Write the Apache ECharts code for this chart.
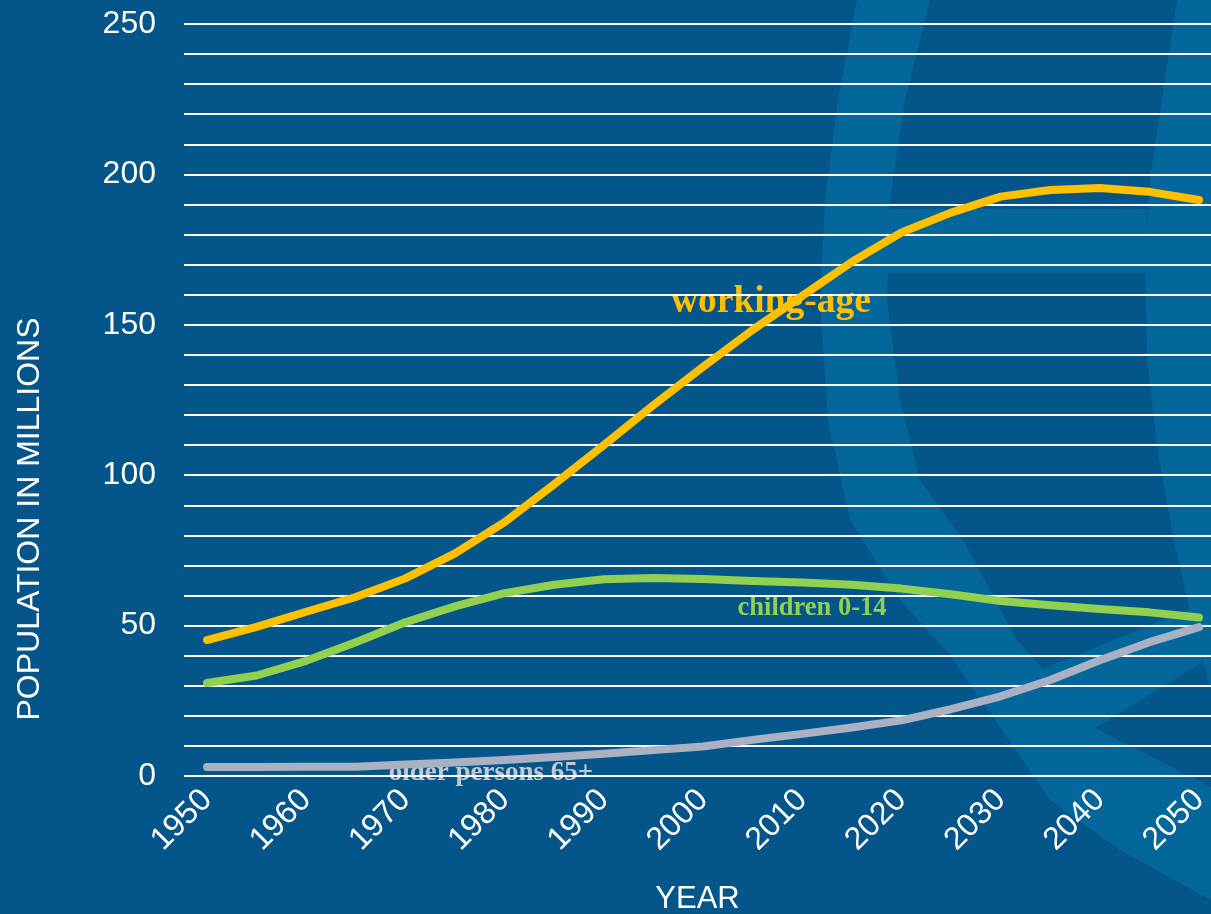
<!DOCTYPE html>
<html>
<head>
<meta charset="utf-8">
<script src="https://cdn.jsdelivr.net/npm/echarts@6/dist/echarts.min.js"></script>
<style>
html,body{margin:0;padding:0;background:#04568A;overflow:hidden;}
#chart{width:1211px;height:914px;}
</style>
</head>
<body>
<div id="chart"></div>
<script>
const years = [1950,1955,1960,1965,1970,1975,1980,1985,1990,1995,2000,2005,2010,2015,2020,2025,2030,2035,2040,2045,2050];
const workingAge = [45.2,49.6,54.6,59.5,65.7,74,84.4,97,110,123.3,136,148.3,159.6,170.9,180.7,187.3,192.6,194.8,195.5,194.2,191.5];
const children = [30.9,33.4,38.3,44.5,51.1,56.4,60.8,63.6,65.4,65.8,65.5,64.8,64.3,63.6,62.3,60.4,58.2,56.8,55.5,54.4,52.7];
const older = [3.0,3.0,3.1,3.1,3.8,4.5,5.3,6.3,7.4,8.6,9.8,12.0,14.0,16.1,18.5,22.2,26.5,31.9,38.5,44.5,49.5];
const xTickLabels = [1950,1960,1970,1980,1990,2000,2010,2020,2030,2040,2050];
const yTickLabels = [0,50,100,150,200,250];

const pair = arr => years.map((y,i)=>[y,arr[i]]);
const light = '#03679B';
const sans = '"Liberation Sans", Arial, sans-serif';
const serif = '"Liberation Serif", "Times New Roman", serif';

const chart = echarts.init(document.getElementById('chart'));
chart.setOption({
  backgroundColor: '#04568A',
  animation: false,
  graphic: [
    { type:'polygon', z:-10, silent:true, shape:{points:[
      [857,0],[838,100],[825,200],[820,300],[828,420],[850,520],[900,600],[950,655],[1000,727],[1050,800],[1120,850],[1211,900],
      [1211,787],[1095,728],[1017,640],[963,540],[920,480],[900,400],[887,300],[890,200],[905,100],[930,0]]}, style:{fill:light}},
    { type:'rect', z:-10, silent:true, shape:{x:887,y:209,width:260,height:64}, style:{fill:light}},
    { type:'polygon', z:-10, silent:true, shape:{points:[
      [1177,0],[1150,178],[1145,268],[1147,357],[1157,446],[1173,536],[1193,625],[1211,688],[1211,0]]}, style:{fill:light}},
    { type:'polygon', z:-10, silent:true, shape:{points:[
      [1040,670],[1095,728],[1211,657],[1211,600]]}, style:{fill:light}},
    { type:'text', x:30, y:519, rotation:Math.PI/2, silent:true,
      style:{text:'POPULATION IN MILLIONS', fill:'#ffffff', font:'32px ' + sans, textAlign:'center', textVerticalAlign:'middle'}},
    { type:'text', silent:true, x:771, y:302,
      style:{text:'working-age', fill:'#FFC000', font:'bold 37.5px ' + serif, textAlign:'center', textVerticalAlign:'middle'}},
    { type:'text', silent:true, x:812, y:608,
      style:{text:'children 0-14', fill:'#92D050', font:'bold 26.5px ' + serif, textAlign:'center', textVerticalAlign:'middle'}},
    { type:'text', silent:true, x:491, y:773,
      style:{text:'older persons 65+', fill:'#C3C8D1', font:'bold 27px ' + serif, textAlign:'center', textVerticalAlign:'middle'}}
  ],
  grid: { left:184, right:0, top:24, bottom:138, containLabel:false, outerBoundsMode:'none' },
  xAxis: {
    type:'value', min:1947.68, max:2051.21,
    name:'YEAR', nameLocation:'middle', nameGap:108,
    nameTextStyle:{color:'#ffffff', fontSize:31, fontFamily:sans},
    axisLine:{show:false}, axisTick:{show:false}, splitLine:{show:false},
    axisLabel:{customValues:xTickLabels, rotate:45, margin:19, color:'#ffffff', fontSize:32,
      fontFamily:sans, formatter: v => String(v)}
  },
  yAxis: {
    type:'value', min:0, max:250, interval:10,
    axisLine:{show:false}, axisTick:{show:false},
    splitLine:{show:true, lineStyle:{color:'#ffffff', width:2}},
    axisLabel:{color:'#ffffff', fontSize:32, margin:28, fontFamily:sans,
      formatter: v => (yTickLabels.indexOf(v) >= 0 ? String(v) : '')}
  },
  series: [
    { name:'older persons 65+', type:'line', data:pair(older), symbol:'none', lineStyle:{color:'#A9B1C2', width:8, cap:'round', join:'round'}, z:3 },
    { name:'children 0-14', type:'line', data:pair(children), symbol:'none', lineStyle:{color:'#92D050', width:8, cap:'round', join:'round'}, z:4 },
    { name:'working-age', type:'line', data:pair(workingAge), symbol:'none', lineStyle:{color:'#FFC000', width:8, cap:'round', join:'round'}, z:5 }
  ]
});
</script>
</body>
</html>
